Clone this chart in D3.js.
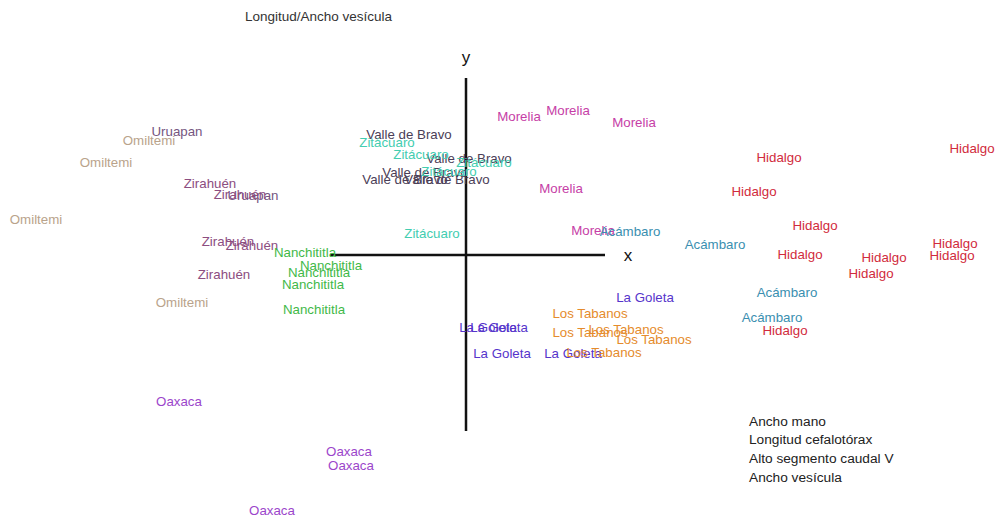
<!DOCTYPE html>
<html>
<head>
<meta charset="utf-8">
<script src="https://cdn.jsdelivr.net/npm/d3@7"></script>
<style>
  html, body { margin: 0; padding: 0; background: #fff; }
  svg { display: block; font-family: "Liberation Sans", Arial, Helvetica, sans-serif; }
</style>
</head>
<body>
<svg id="chart" width="995" height="519"></svg>
<script>
// Localities in the ordination, one entry per specimen
const localidades = [
  "Uruapan", "Uruapan",
  "Omiltemi", "Omiltemi", "Omiltemi", "Omiltemi",
  "Zirahuén", "Zirahuén", "Zirahuén", "Zirahuén", "Zirahuén",
  "Nanchititla", "Nanchititla", "Nanchititla", "Nanchititla", "Nanchititla",
  "Valle de Bravo", "Valle de Bravo", "Valle de Bravo", "Valle de Bravo", "Valle de Bravo",
  "Zitácuaro", "Zitácuaro", "Zitácuaro", "Zitácuaro", "Zitácuaro",
  "Morelia", "Morelia", "Morelia", "Morelia", "Morelia",
  "Acámbaro", "Acámbaro", "Acámbaro", "Acámbaro",
  "Hidalgo", "Hidalgo", "Hidalgo", "Hidalgo", "Hidalgo",
  "Hidalgo", "Hidalgo", "Hidalgo", "Hidalgo", "Hidalgo",
  "La Goleta", "La Goleta", "La Goleta", "La Goleta", "La Goleta",
  "Los Tabanos", "Los Tabanos", "Los Tabanos", "Los Tabanos", "Los Tabanos",
  "Oaxaca", "Oaxaca", "Oaxaca", "Oaxaca"
];

// Scores on the first axis (x)
const eje1 = [
  -2.89, -2.13,
  -3.17, -3.60, -4.30, -2.84,
  -2.56, -2.26, -2.38, -2.14, -2.42,
  -1.61, -1.35, -1.47, -1.53, -1.52,
  -0.57, 0.03, -0.41, -0.61, -0.19,
  -0.79, -0.45, 0.18, -0.17, -0.34,
  0.53, 1.02, 1.68, 0.95, 1.27,
  1.64, 2.49, 3.21, 3.06,
  3.13, 5.06, 2.88, 3.49, 3.34,
  4.18, 4.89, 4.86, 4.05, 3.19,
  1.79, 0.22, 0.33, 0.36, 1.07,
  1.24, 1.24, 1.60, 1.88, 1.38,
  -2.87, -1.17, -1.15, -1.94
];

// Scores on the second axis (y)
const eje2 = [
  1.24, 0.60,
  1.15, 0.93, 0.36, -0.47,
  0.72, 0.61, 0.14, 0.10, -0.19,
  0.03, -0.10, -0.17, -0.29, -0.54,
  1.21, 0.97, 0.83, 0.76, 0.76,
  1.13, 1.01, 0.93, 0.84, 0.22,
  1.39, 1.45, 1.33, 0.67, 0.25,
  0.24, 0.11, -0.37, -0.62,
  0.98, 1.07, 0.64, 0.30, 0.01,
  -0.02, 0.12, 0.00, -0.18, -0.75,
  -0.42, -0.72, -0.72, -0.98, -0.98,
  -0.58, -0.77, -0.74, -0.84, -0.97,
  -1.46, -1.96, -2.10, -2.55
];

// Colour for each locality
const nombres = ["Uruapan", "Omiltemi", "Zirahuén", "Nanchititla", "Valle de Bravo", "Zitácuaro",
                 "Morelia", "Acámbaro", "Hidalgo", "La Goleta", "Los Tabanos", "Oaxaca"];
const tonos   = ["#75567f", "#b9a38b", "#8c4d80", "#3fb948", "#4b3e57", "#43cdb0",
                 "#c63ea6", "#3a8fb0", "#d12b3c", "#5634cb", "#e58b2c", "#9b45cb"];

// Variables listed beside the plot
const titulo = "Longitud/Ancho vesícula";
const variables = ["Ancho mano", "Longitud cefalotórax", "Alto segmento caudal V", "Ancho vesícula"];

// Extent of the drawn reference axes
const ejeX = [-1.36, 1.39];
const ejeY = [-1.76, 1.77];
const etiquetaX = [1.62, 0];
const etiquetaY = [0, 1.98];

const svg = d3.select("#chart");
const x = d3.scaleLinear().domain([-5, 5]).range([-34, 966]);
const y = d3.scaleLinear().domain([-3, 3]).range([555, -45]);
const color = d3.scaleOrdinal().domain(nombres).range(tonos);

// Reference axes through the origin
svg.append("line")
  .attr("x1", x(ejeX[0])).attr("x2", x(ejeX[1]))
  .attr("y1", y(0)).attr("y2", y(0))
  .attr("stroke", "#111").attr("stroke-width", 2.5);
svg.append("line")
  .attr("x1", x(0)).attr("x2", x(0))
  .attr("y1", y(ejeY[0])).attr("y2", y(ejeY[1]))
  .attr("stroke", "#111").attr("stroke-width", 2.5);

svg.append("text")
  .attr("x", x(etiquetaX[0])).attr("y", y(etiquetaX[1]))
  .attr("text-anchor", "middle").attr("dominant-baseline", "central")
  .attr("font-size", 17).attr("fill", "#111").text("x");
svg.append("text")
  .attr("x", x(etiquetaY[0])).attr("y", y(etiquetaY[1]))
  .attr("text-anchor", "middle").attr("dominant-baseline", "central")
  .attr("font-size", 17).attr("fill", "#111").text("y");

// Specimen labels
const puntos = localidades.map((l, i) => ({ l, a: eje1[i], b: eje2[i] }));
svg.append("g").selectAll("text")
  .data(puntos)
  .join("text")
  .attr("x", d => x(d.a))
  .attr("y", d => y(d.b))
  .attr("text-anchor", "middle")
  .attr("dominant-baseline", "central")
  .attr("font-size", 13.3)
  .attr("fill", d => color(d.l))
  .text(d => d.l);

// Variable names
svg.append("text")
  .attr("x", 245).attr("y", 16)
  .attr("dominant-baseline", "central")
  .attr("font-size", 13.5).attr("fill", "#333")
  .text(titulo);

svg.append("g").selectAll("text")
  .data(variables)
  .join("text")
  .attr("x", 749)
  .attr("y", (d, i) => 421 + i * 18.7)
  .attr("dominant-baseline", "central")
  .attr("font-size", 13.7).attr("fill", "#222")
  .text(d => d);
</script>
</body>
</html>
